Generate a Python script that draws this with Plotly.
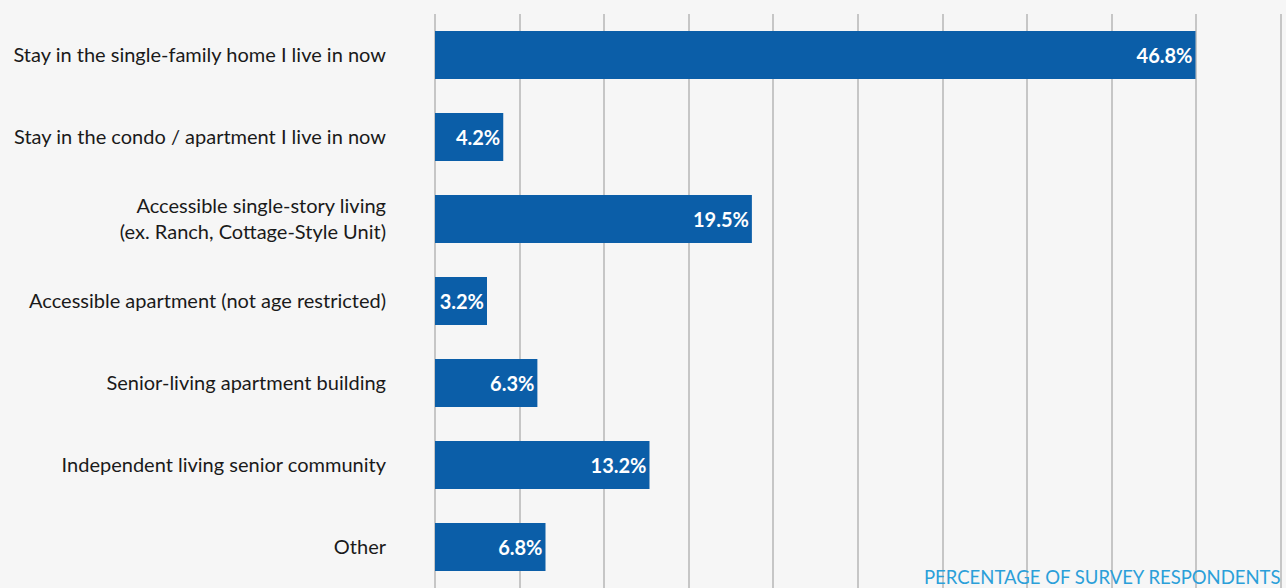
import plotly.graph_objects as go

categories = [
    "Stay in the single-family home I live in now",
    "Stay in the condo / apartment I live in now",
    "Accessible single-story living<br>(ex. Ranch, Cottage-Style Unit)",
    "Accessible apartment (not age restricted)",
    "Senior-living apartment building",
    "Independent living senior community",
    "Other",
]
values = [46.8, 4.2, 19.5, 3.2, 6.3, 13.2, 6.8]
axis_title = "PERCENTAGE OF SURVEY RESPONDENTS"

W, H = 1286, 588
left, top = 435, 14
px_per_unit = 16.25
grid_px = 84.6

fig = go.Figure(go.Bar(
    x=values,
    y=categories,
    orientation="h",
    marker=dict(color="#0b5ea8", line=dict(width=0)),
    text=[f"{v:.1f}%" for v in values],
    textposition="inside",
    insidetextanchor="end",
    textangle=0,
    textfont=dict(family="Lato", size=20, color="white", weight="bold"),
    hoverinfo="skip",
))

fig.update_layout(
    width=W, height=H,
    margin=dict(l=left, r=0, t=top, b=0),
    paper_bgcolor="#f6f6f6",
    plot_bgcolor="#f6f6f6",
    bargap=1 - 48 / 82,
    showlegend=False,
    font=dict(family="Lato", size=20, color="#1a1a1a"),
)
fig.update_xaxes(
    range=[0, (W - left) / px_per_unit],
    tick0=0,
    dtick=grid_px / px_per_unit,
    showticklabels=False,
    showgrid=True,
    gridcolor="#c6c6c6",
    gridwidth=2,
    zeroline=True,
    zerolinecolor="#c6c6c6",
    zerolinewidth=2,
    showline=False,
    fixedrange=True,
)
fig.update_yaxes(
    autorange="reversed",
    showgrid=False,
    zeroline=False,
    showline=False,
    ticks="",
    ticklabelstandoff=48,
    tickfont=dict(family="Lato", size=20, color="#1a1a1a"),
)
fig.add_annotation(
    text=axis_title,
    xref="paper", yref="paper",
    x=1.0, y=(H - 564) / (H - top),
    xanchor="right", yanchor="top",
    xshift=-3,
    showarrow=False,
    font=dict(family="Lato", size=18.5, color="#2b9fd9"),
)

fig.write_html("out.html")
